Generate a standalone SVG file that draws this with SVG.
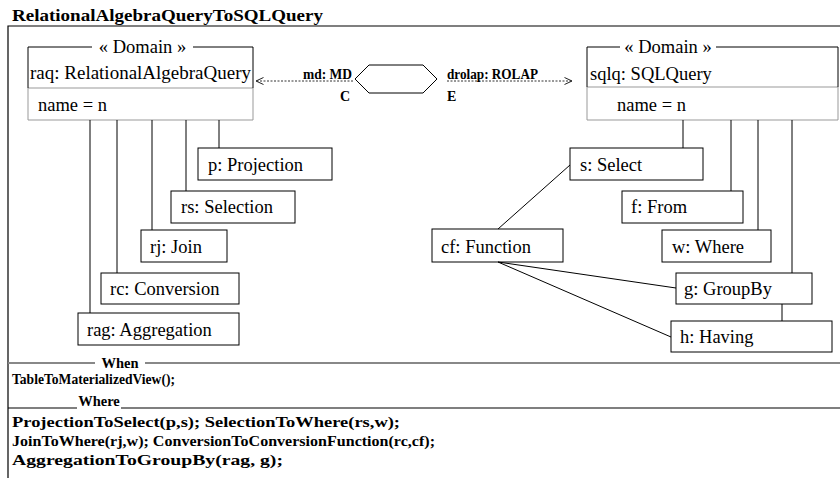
<svg xmlns="http://www.w3.org/2000/svg" width="840" height="478" viewBox="0 0 840 478">
<defs>
<marker id="open" markerWidth="9" markerHeight="8" refX="8" refY="4" orient="auto" markerUnits="userSpaceOnUse">
<path d="M0.5,0.5 L8,4 L0.5,7.5" fill="none" stroke="#222" stroke-width="1"/>
</marker>
</defs>
<style>
text{font-family:"Liberation Serif","Times New Roman",serif;fill:#000}
.lbl{font-size:18.5px}
.b{font-weight:bold}
.node rect{fill:#fff;stroke:#000;stroke-width:1}
.hdr{fill:none;stroke:#000;stroke-width:1}
.cmp{fill:none;stroke:#999;stroke-width:1}
.conn line{stroke:#000;stroke-width:1}
.dash{stroke:#333;stroke-width:1;stroke-dasharray:2 1.5;fill:none}
.frame{stroke:#000;stroke-width:1.2;fill:none}
</style>
<rect width="840" height="478" fill="#fff"/>
<text x="12" y="21" class="b" font-size="17" textLength="311" lengthAdjust="spacingAndGlyphs">RelationalAlgebraQueryToSQLQuery</text>
<path class="frame" d="M8,478 L8,26 L840,26"/>

<g id="raq" class="node">
<path class="cmp" d="M28,88 L28,120 L253,120 L253,88 L28,88"/>
<path class="hdr" d="M28,88 L28,47 L92,47 M193,47 L253,47 L253,88"/>
<text x="142.5" y="53" class="lbl" text-anchor="middle">« Domain »</text>
<text x="30" y="79" class="lbl" textLength="221" lengthAdjust="spacingAndGlyphs">raq: RelationalAlgebraQuery</text>
<text x="38" y="111" class="lbl">name = n</text>
</g>

<g id="sqlq" class="node">
<path class="cmp" d="M587,87 L587,120 L838,120 L838,87 L587,87"/>
<path class="hdr" d="M587,87 L587,47 L620,47 M716,47 L838,47 L838,87"/>
<text x="668" y="53" class="lbl" text-anchor="middle">« Domain »</text>
<text x="590" y="80" class="lbl">sqlq: SQLQuery</text>
<text x="617" y="111" class="lbl">name = n</text>
</g>

<g id="md_hexagon" class="node">
<polygon points="355,79 369,65 423,65 437,79 423,93 369,93" fill="#fff" stroke="#000" stroke-width="1"/>
<text x="345" y="101" class="b" font-size="14" text-anchor="middle">C</text>
<text x="447" y="101" class="b" font-size="14">E</text>
</g>

<g id="p" class="node"><rect x="198" y="148" width="134" height="32"/><text x="208" y="171" class="lbl">p: Projection</text></g>
<g id="rs" class="node"><rect x="171" y="191" width="124" height="32"/><text x="181" y="213" class="lbl">rs: Selection</text></g>
<g id="rj" class="node"><rect x="141" y="230" width="86" height="32"/><text x="150" y="253" class="lbl">rj: Join</text></g>
<g id="rc" class="node"><rect x="101" y="273" width="138" height="31"/><text x="110" y="295" class="lbl">rc: Conversion</text></g>
<g id="rag" class="node"><rect x="78" y="313" width="161" height="32"/><text x="87" y="336" class="lbl">rag: Aggregation</text></g>

<g id="s" class="node"><rect x="570" y="148" width="133" height="32"/><text x="580" y="171" class="lbl">s: Select</text></g>
<g id="f" class="node"><rect x="622" y="191" width="121" height="32"/><text x="631" y="213" class="lbl">f: From</text></g>
<g id="w" class="node"><rect x="662" y="230" width="109" height="32"/><text x="672" y="253" class="lbl">w: Where</text></g>
<g id="cf" class="node"><rect x="432" y="229" width="131" height="33"/><text x="441" y="253" class="lbl">cf: Function</text></g>
<g id="g" class="node"><rect x="676" y="273" width="136" height="31"/><text x="684" y="295" class="lbl">g: GroupBy</text></g>
<g id="h" class="node"><rect x="671" y="321" width="161" height="31"/><text x="680" y="343" class="lbl">h: Having</text></g>

<g id="connectors" class="conn">
<line x1="219" y1="120" x2="219" y2="148"/>
<line x1="186" y1="120" x2="186" y2="191"/>
<line x1="152" y1="120" x2="152" y2="230"/>
<line x1="117" y1="120" x2="117" y2="273"/>
<line x1="90" y1="120" x2="90" y2="313"/>
<line x1="683" y1="120" x2="683" y2="148"/>
<line x1="731" y1="120" x2="731" y2="191"/>
<line x1="758" y1="120" x2="758" y2="230"/>
<line x1="792" y1="120" x2="792" y2="273"/>
<line x1="782" y1="304" x2="782" y2="321"/>
<line x1="498" y1="229" x2="570" y2="165"/>
<line x1="498" y1="262" x2="676" y2="288"/>
<line x1="498" y1="262" x2="671" y2="337"/>
<path class="dash" d="M353,81 L256,81" marker-end="url(#open)"/>
<path class="dash" d="M447,81 L572,81" marker-end="url(#open)"/>
<text x="303" y="79" class="b" font-size="14" textLength="49" lengthAdjust="spacingAndGlyphs">md: MD</text>
<text x="447" y="79" class="b" font-size="14" textLength="91" lengthAdjust="spacingAndGlyphs">drolap: ROLAP</text>
</g>

<g id="when">
<path d="M8,363 L95,363 M145,363 L840,363" stroke="#888" stroke-width="1.8" fill="none"/>
<text x="120" y="367.5" class="b" font-size="14.5" text-anchor="middle">When</text>
<text x="12" y="384" class="b" font-size="15.5" textLength="163" lengthAdjust="spacingAndGlyphs">TableToMaterializedView();</text>
</g>

<g id="where">
<path d="M8,408 L77,408 M121,408 L840,408" stroke="#000" stroke-width="1.2" fill="none"/>
<text x="99" y="406" class="b" font-size="14.5" text-anchor="middle">Where</text>
<text x="12" y="427" class="b" font-size="15" textLength="388" lengthAdjust="spacingAndGlyphs">ProjectionToSelect(p,s); SelectionToWhere(rs,w);</text>
<text x="12" y="446" class="b" font-size="15" textLength="423" lengthAdjust="spacingAndGlyphs">JoinToWhere(rj,w); ConversionToConversionFunction(rc,cf);</text>
<text x="12" y="465" class="b" font-size="15" textLength="271" lengthAdjust="spacingAndGlyphs">AggregationToGroupBy(rag, g);</text>
</g>
</svg>
